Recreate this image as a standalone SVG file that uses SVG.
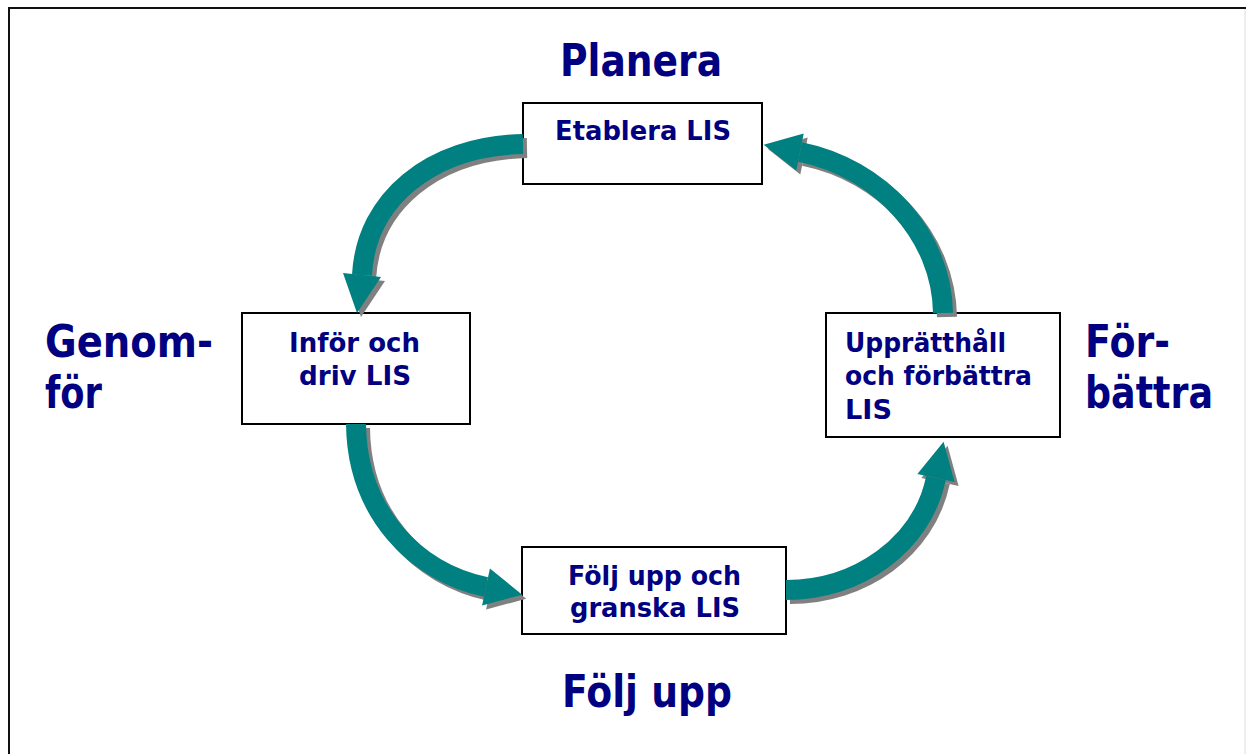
<svg xmlns="http://www.w3.org/2000/svg" xmlns:xlink="http://www.w3.org/1999/xlink" width="1246" height="754" viewBox="0 0 1246 754">
<style>
.box{fill:#fff;stroke:#000;stroke-width:2}
.big{font-family:"DejaVu Sans","Liberation Sans",sans-serif;font-weight:bold;font-size:45px;fill:#000080}
.lbl{font-family:"DejaVu Sans","Liberation Sans",sans-serif;font-weight:bold;font-size:27px;fill:#000080}
</style>
<defs>
<g id="a1"><path fill="none" stroke-width="20" d="M523,144 C430,146 366,200 362,275"/><polygon stroke="none" points="381,277 343,273 357,313"/></g>
<g id="a2"><path fill="none" stroke-width="20" d="M356,424 C357,512 415,572 486,587"/><polygon stroke="none" points="489.9,568.4 482.1,605.6 522.2,594.7"/></g>
<g id="a3"><path fill="none" stroke-width="20" d="M786,590 C858,590 922,545 936,478"/><polygon stroke="none" points="954.6,481.9 917.4,474.1 943.6,441.8"/></g>
<g id="a4"><path fill="none" stroke-width="20" d="M943,313 C942,235 880,168 800,152"/><polygon stroke="none" points="803.7,133.4 796.3,170.6 763.7,144.7"/></g>
</defs>
<rect x="0" y="0" width="1246" height="754" fill="#fff"/>
<path d="M9,760 V8 H1250" fill="none" stroke="#111" stroke-width="2"/>
<line x1="1245" y1="9" x2="1245" y2="754" stroke="#ddd" stroke-width="1"/>

<g id="label-planera"><text class="big" x="560" y="76" textLength="162" lengthAdjust="spacingAndGlyphs">Planera</text></g>
<g id="label-genomfor"><text class="big" x="45" y="357" textLength="168" lengthAdjust="spacingAndGlyphs">Genom-</text><text class="big" x="45" y="408" textLength="57" lengthAdjust="spacingAndGlyphs">för</text></g>
<g id="label-forbattra"><text class="big" x="1085" y="357" textLength="85" lengthAdjust="spacingAndGlyphs">För-</text><text class="big" x="1085" y="408" textLength="128" lengthAdjust="spacingAndGlyphs">bättra</text></g>
<g id="label-foljupp"><text class="big" x="562" y="707" textLength="170" lengthAdjust="spacingAndGlyphs">Följ upp</text></g>

<g id="node-etablera"><rect class="box" x="523" y="103" width="239" height="81"/><text class="lbl" x="555" y="140" textLength="176" lengthAdjust="spacingAndGlyphs">Etablera LIS</text></g>
<g id="node-infor"><rect class="box" x="242" y="313" width="228" height="111"/><text class="lbl" x="289" y="352" textLength="131" lengthAdjust="spacingAndGlyphs">Inför och</text><text class="lbl" x="299" y="385" textLength="112" lengthAdjust="spacingAndGlyphs">driv LIS</text></g>
<g id="node-upprattahall"><rect class="box" x="826" y="313" width="234" height="124"/><text class="lbl" x="845" y="352" textLength="161" lengthAdjust="spacingAndGlyphs">Upprätthåll</text><text class="lbl" x="845" y="385" textLength="187" lengthAdjust="spacingAndGlyphs">och förbättra</text><text class="lbl" x="845" y="419" textLength="47" lengthAdjust="spacingAndGlyphs">LIS</text></g>
<g id="node-foljupp"><rect class="box" x="522" y="547" width="264" height="87"/><text class="lbl" x="568" y="585" textLength="173" lengthAdjust="spacingAndGlyphs">Följ upp och</text><text class="lbl" x="570" y="617" textLength="170" lengthAdjust="spacingAndGlyphs">granska LIS</text></g>

<g id="connectors">
<g fill="#808080" stroke="#808080" transform="translate(4,4)"><use xlink:href="#a1"/><use xlink:href="#a2"/><use xlink:href="#a3"/><use xlink:href="#a4"/></g>
<g fill="#008080" stroke="#008080"><use xlink:href="#a1"/><use xlink:href="#a2"/><use xlink:href="#a3"/><use xlink:href="#a4"/></g>
</g>
</svg>
